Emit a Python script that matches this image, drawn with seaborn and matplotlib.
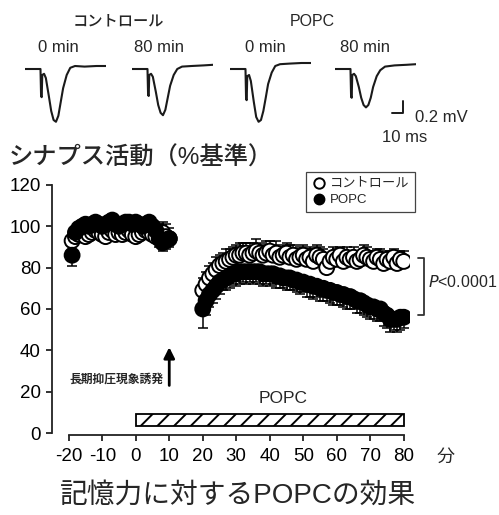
import numpy as np
import pandas as pd
import matplotlib
matplotlib.use("Agg")
import matplotlib.pyplot as plt
from matplotlib.lines import Line2D
import seaborn as sns

# ================= DATA =================
groups = ["コントロール", "POPC"]

t_pre = list(range(-19, 11))
t_post = list(range(20, 81))

ctrl_pre = [93, 95, 96, 97, 95, 96, 97, 98, 97, 96, 95, 97, 98, 96, 97,
            96, 97, 98, 96, 95, 96, 97, 98, 97, 96, 95, 96, 97, 95, 94]
popc_pre = [86, 97, 99, 100, 101, 100, 101, 102, 101, 100, 101, 102, 103, 101, 100,
            101, 102, 102, 101, 102, 101, 100, 101, 102, 100, 98, 94, 92, 93, 94]
ctrl_pre_err = [3, 3, 2, 3, 3, 2, 3, 3, 2, 3, 3, 2, 3, 3, 2,
                3, 3, 2, 3, 3, 2, 3, 3, 2, 4, 5, 5, 5, 6, 5]
popc_pre_err = [5, 3, 3, 2, 3, 3, 2, 3, 3, 2, 3, 3, 2, 3, 3,
                2, 3, 3, 2, 3, 3, 2, 3, 3, 3, 4, 4, 4, 4, 4]

ctrl_post = [69, 72, 75, 77, 79, 81, 82, 83, 84, 85,
             86, 86, 87, 87, 86, 87, 88, 87, 86, 87,
             88, 86, 87, 85, 86, 87, 85, 86, 84, 85,
             86, 84, 85, 83, 86, 85, 84, 80, 83, 85,
             84, 86, 83, 85, 84, 85, 83, 84, 86, 85,
             84, 83, 85, 84, 82, 84, 83, 85, 82, 84, 83]
popc_post = [60, 64, 67, 69, 71, 73, 74, 75, 76, 77,
             77, 78, 78, 78, 78, 78, 78, 78, 77, 77,
             77, 77, 76, 76, 75, 75, 75, 74, 74, 73,
             73, 72, 72, 71, 71, 70, 70, 69, 69, 68,
             68, 67, 67, 66, 66, 65, 64, 64, 63, 62,
             61, 61, 60, 60, 58, 57, 55, 55, 55, 56, 56]
ctrl_post_err = [6, 6, 6, 5, 6, 5, 5, 6, 5, 5,
                 5, 6, 5, 5, 6, 5, 6, 5, 5, 6,
                 5, 5, 6, 5, 5, 5, 6, 5, 5, 5,
                 5, 5, 5, 6, 5, 5, 5, 5, 4, 5,
                 5, 4, 5, 5, 4, 5, 5, 4, 5, 5,
                 4, 5, 4, 5, 5, 4, 5, 4, 5, 4, 5]
popc_post_err = [9, 7, 6, 6, 6, 6, 5, 6, 6, 5,
                 6, 6, 5, 6, 5, 6, 5, 6, 6, 5,
                 6, 5, 6, 6, 5, 6, 6, 5, 6, 6,
                 5, 6, 6, 6, 5, 6, 6, 5, 6, 6,
                 6, 5, 6, 6, 6, 5, 6, 6, 6, 6,
                 6, 6, 6, 6, 6, 6, 6, 5, 6, 6, 5]

x_ticks = [-20, -10, 0, 10, 20, 30, 40, 50, 60, 70, 80]
y_ticks = [0, 20, 40, 60, 80, 100, 120]

# example traces (ms, mV)
trace_ms = [0, 13, 13.5, 14, 14.5, 16, 17.5, 20, 22, 24, 26, 28, 30, 32, 35, 38, 42, 50, 60, 68]
trace_ctrl0 = [0.0, 0.0, -0.45, -0.47, -0.1, -0.08, -0.15, -0.45, -0.7, -0.85,
               -0.88, -0.78, -0.55, -0.32, -0.1, 0.02, 0.05, 0.04, 0.05, 0.05]
trace_ctrl80 = [0.0, 0.0, -0.43, -0.45, -0.1, -0.08, -0.13, -0.38, -0.6, -0.73,
                -0.77, -0.68, -0.48, -0.28, -0.1, 0.0, 0.04, 0.05, 0.06, 0.07]
trace_popc0 = [0.0, 0.0, -0.5, -0.52, -0.12, -0.1, -0.2, -0.55, -0.8, -0.88,
               -0.85, -0.7, -0.48, -0.25, -0.06, 0.05, 0.08, 0.09, 0.1, 0.1]
trace_popc80 = [0.0, 0.0, -0.46, -0.48, -0.1, -0.08, -0.12, -0.3, -0.48, -0.6,
                -0.64, -0.6, -0.48, -0.3, -0.12, -0.02, 0.04, 0.06, 0.07, 0.08]
trace_labels = ["0 min", "80 min", "0 min", "80 min"]

# ================= STYLE =================
sns.set_style("ticks")
plt.rcParams["font.family"] = ["Liberation Sans", "Noto Sans CJK JP"]
plt.rcParams["axes.unicode_minus"] = False
plt.rcParams["hatch.linewidth"] = 1.4

W, H = 499, 515
fig = plt.figure(figsize=(W / 100, H / 100), dpi=100)

def fx(px):
    return px / W

def fy(py):
    return 1 - py / H

# ================= TRACES =================
trace_sets = [trace_ctrl0, trace_ctrl80, trace_popc0, trace_popc80]
trace_left = [25, 132, 230, 335]
trace_axes = []
for left, mv in zip(trace_left, trace_sets):
    tax = fig.add_axes([fx(left), fy(129), 81 / W, 72 / H])
    tdf = pd.DataFrame({"ms": trace_ms, "mv": mv})
    sns.lineplot(data=tdf, x="ms", y="mv", ax=tax, color="#1a1a1a", lw=1.5, sort=False)
    tax.set_xlim(0, 68)
    tax.set_ylim(-1.0, 0.2)
    tax.axis("off")
    trace_axes.append(tax)

# scale bar in last trace axes
sb = trace_axes[-1]
sb.plot([47.5, 57.5, 57.5], [-0.733, -0.733, -0.533], color="#1a1a1a", lw=1.4, clip_on=False)

fig.text(fx(118), fy(22), "コントロール", ha="center", va="center", fontsize=11, fontweight="medium")
fig.text(fx(312), fy(22), "POPC", ha="center", va="center", fontsize=11.5)
for cx, cy, lab in zip([58, 159, 265, 365], [48, 48, 47, 48], trace_labels):
    fig.text(fx(cx), fy(cy), lab, ha="center", va="center", fontsize=12)
fig.text(fx(415), fy(117), "0.2 mV", ha="left", va="center", fontsize=12)
fig.text(fx(382), fy(137), "10 ms", ha="left", va="center", fontsize=12)

fig.text(fx(9), fy(158), "シナプス活動（%基準）", ha="left", va="center", fontsize=17.5,
         fontweight="medium")

# ================= MAIN PLOT =================
ax = fig.add_axes([fx(52), fy(433), 358.45 / W, 252.2 / H])

df = pd.DataFrame({
    "t": t_pre + t_post + t_pre + t_post,
    "v": ctrl_pre + ctrl_post + popc_pre + popc_post,
    "group": [groups[0]] * (len(t_pre) + len(t_post)) + [groups[1]] * (len(t_pre) + len(t_post)),
})

ctrl_t = t_pre + t_post
ctrl_v = ctrl_pre + ctrl_post
ctrl_e = ctrl_pre_err + ctrl_post_err
popc_v = popc_pre + popc_post
popc_e = popc_pre_err + popc_post_err

ax.errorbar(ctrl_t, ctrl_v, yerr=[np.zeros(len(ctrl_e)), ctrl_e], fmt="none",
            ecolor="black", elinewidth=1.1, capsize=3.5, capthick=1.1, zorder=1)
ax.errorbar(ctrl_t, popc_v, yerr=[popc_e, np.zeros(len(popc_e))], fmt="none",
            ecolor="black", elinewidth=1.1, capsize=3.5, capthick=1.1, zorder=1)

sns.scatterplot(data=df, x="t", y="v", hue="group", palette={groups[0]: "white", groups[1]: "black"},
                edgecolor="black", linewidth=1.4, s=115, ax=ax, legend=False, zorder=3)

ax.set_xlim(-25, 82)
ax.set_ylim(0, 122)
ax.set_xticks(x_ticks)
ax.set_xticklabels([str(v) for v in x_ticks])
ax.set_yticks(y_ticks)
ax.set_xlabel("")
ax.set_ylabel("")
sns.despine(ax=ax)
ax.spines["left"].set_bounds(0, 120)
ax.spines["bottom"].set_bounds(-20, 80)
ax.spines["bottom"].set_position(("outward", 1.5))
for sp in ["left", "bottom"]:
    ax.spines[sp].set_linewidth(1.3)
    ax.spines[sp].set_color("#222222")
ax.tick_params(axis="both", direction="out", length=4.5, width=1.3, labelsize=13.5, colors="#222222")
ax.tick_params(axis="x", pad=4.5)
for lab in ax.get_xticklabels() + ax.get_yticklabels():
    lab.set_color("black")

# legend
h1 = Line2D([], [], marker="o", ls="", mfc="white", mec="black", ms=7.5, mew=1.4)
h2 = Line2D([], [], marker="o", ls="", mfc="black", mec="black", ms=7.5)
leg = ax.legend([h1, h2], groups, loc="upper right", bbox_to_anchor=(fx(415), fy(172)),
                bbox_transform=fig.transFigure, frameon=True, fancybox=False, framealpha=1,
                edgecolor="#444444", fontsize=9.5, handletextpad=0.3, borderpad=0.45,
                labelspacing=0.3, handlelength=1.0, borderaxespad=0)
leg.get_frame().set_linewidth(0.9)

# significance bracket
ax.plot([84.2, 85.9, 85.9, 84.2], [84.7, 84.7, 57.0, 57.0], color="#333333", lw=1.3, clip_on=False)
fig.text(fx(428), fy(282), "$P$<0.0001", ha="left", va="center", fontsize=11.5)

# LTD induction arrow
ax.annotate("", xy=(10, 41.5), xytext=(10, 23),
            arrowprops=dict(arrowstyle="-|>", color="black", lw=2.0, mutation_scale=16,
                            shrinkA=0, shrinkB=0))
ax.text(8.3, 26, "長期抑圧現象誘発", ha="right", va="center", fontsize=8.5, fontweight="bold")

# POPC application bar
ax.barh(6.3, 80, left=0, height=5.6, color="white", edgecolor="black", hatch="//", lw=1.3)
ax.text(44, 16.5, "POPC", ha="center", va="center", fontsize=12.5)

fig.text(fx(437), fy(457), "分", ha="left", va="center", fontsize=13)
fig.text(fx(238), fy(496), "記憶力に対するPOPCの効果", ha="center", va="center", fontsize=20)

plt.savefig("out.png", dpi=100)
plt.close()
